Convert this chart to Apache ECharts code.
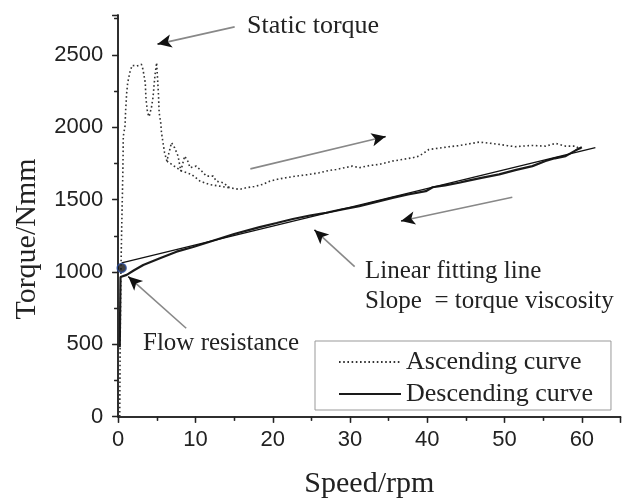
<!DOCTYPE html>
<html>
<head>
<meta charset="utf-8">
<script src="https://cdn.jsdelivr.net/npm/echarts@6/dist/echarts.min.js"></script>
<style>html,body{margin:0;padding:0;background:#fff}#c{width:624px;height:501px}</style>
</head>
<body>
<div id="c"></div>
<script>
// Ascending curve (speed rpm, torque Nmm) – main trace
const ascSpeed = [0.2,0.25,0.35,0.45,0.55,0.62,0.66,0.88,0.97,1.1,1.23,1.5,1.8,2.4,3.0,3.2,3.5,3.6,3.8,4.0,4.3,4.5,4.75,4.97,5.2,5.3,5.5,5.6,5.8,6.0,6.3,6.6,6.9,7.3,7.75,8.1,8.6,9.0,9.3,10.1,10.8,11.4,12.3,12.7,13.6,14.4,15.7,16.6,17.6,18.7,19.6,20.6,21.7,23.0,24.5,26.0,27.2,28.2,29.3,30.3,31.2,32.5,33.8,35.5,36.8,38.1,38.9,39.6,40.2,41.5,42.8,44.0,45.0,46.7,48.0,49.3,50.4,51.4,52.5,53.6,55.3,56.6,57.9,59.2,59.8];
const ascTorque = [0,500,1000,1300,1550,1750,1938,2008,2123,2238,2308,2377,2427,2423,2434,2400,2308,2192,2100,2073,2135,2204,2354,2446,2238,2100,2031,1962,1893,1824,1766,1830,1893,1858,1800,1697,1800,1766,1720,1731,1697,1662,1662,1627,1616,1582,1570,1582,1590,1605,1627,1640,1651,1662,1672,1685,1700,1708,1720,1731,1720,1735,1743,1766,1777,1789,1800,1823,1846,1855,1865,1872,1881,1897,1890,1881,1872,1865,1870,1874,1869,1888,1869,1869,1846];
// Ascending curve – second (lower) trace of the same run
const ascSpeed2 = [6.3,7.0,8.2,9.5,10.6,11.8,13.1,14.4];
const ascTorque2 = [1766,1740,1697,1674,1627,1604,1593,1582];
// Descending curve
const descSpeed = [60.0,59.2,57.9,56.5,55.3,53.6,51.5,49.3,47.0,45.0,44.1,42.3,40.7,39.8,37.5,35.5,33.3,31.2,29.0,26.9,24.8,22.6,20.5,18.3,15.0,11.85,9.7,7.55,5.4,3.24,2.0,1.1,0.3,0.2];
const descTorque = [1862,1840,1800,1785,1766,1731,1705,1674,1650,1627,1616,1598,1585,1558,1535,1512,1482,1454,1432,1409,1390,1366,1338,1310,1262,1209,1172,1140,1095,1048,1010,980,965,480];
// Linear fitting line end points
const fitSpeed = [0.45, 61.75];
const fitTorque = [1062, 1859];
// Flow resistance point
const flowPoint = [0.45, 1028];
// Annotation arrows [fromSpeed, fromTorque, toSpeed, toTorque]
const arrows = [
  [15.07, 2693, 5.1, 2574],
  [17.1, 1712, 34.6, 1935],
  [51.0, 1516, 36.6, 1352],
  [30.6, 1037, 25.4, 1290],
  [8.8, 611, 1.3, 968]
];
const xTicks = [0,10,20,30,40,50,60];
const yTicks = [0,500,1000,1500,2000,2500];

const zip = (a,b) => a.map((v,i)=>[v,b[i]]);
const greyLines = arrows.map(a => [{coord:[a[0],a[1]]},{coord:[a[2],a[3]]}]);
const heads = arrows.map(a => {
  const t = 0.97;
  return [{coord:[a[0]+(a[2]-a[0])*t, a[1]+(a[3]-a[1])*t]},{coord:[a[2],a[3]]}];
});

const serif = 'Liberation Serif, Times New Roman, serif';
const sans = 'Liberation Sans, Arial, sans-serif';
const chart = echarts.init(document.getElementById('c'), null, {renderer:'canvas'});
const axisBase = {
  min: 0, axisLine:{show:true,lineStyle:{color:'#222',width:1.5}},
  splitLine:{show:false}
};
chart.setOption({
  animation:false,
  backgroundColor:'#fff',
  grid:{left:118.2, right:3.5, top:15, bottom:84.3, containLabel:false, outerBoundsMode:'none'},
  xAxis:[
    Object.assign({}, axisBase, {type:'value', max:65, interval:10, position:'bottom',
      axisTick:{show:true,inside:false,length:6,lineStyle:{color:'#222',width:1.3}},
      minorTick:{show:true,splitNumber:2,length:4,lineStyle:{color:'#222',width:1.3}},
      axisLabel:{fontFamily:sans,fontSize:22,color:'#222',margin:12,
        formatter:v=> xTicks.includes(v)? String(v):''},
      name:'Speed/rpm', nameLocation:'middle', nameGap:52,
      nameTextStyle:{fontFamily:serif,fontSize:30,color:'#222'}}),
    Object.assign({}, axisBase, {type:'value', max:65, interval:10, position:'top',
      axisTick:{show:true,inside:true,length:6,lineStyle:{color:'#222',width:1.3}},
      minorTick:{show:true,splitNumber:2,length:4,lineStyle:{color:'#222',width:1.3}},
      axisLabel:{show:false}})
  ],
  yAxis:[
    Object.assign({}, axisBase, {type:'value', max:2775, interval:500, position:'left',
      axisTick:{show:true,inside:false,length:6,lineStyle:{color:'#222',width:1.3}},
      minorTick:{show:true,splitNumber:2,length:4,lineStyle:{color:'#222',width:1.3}},
      axisLabel:{fontFamily:sans,fontSize:22,color:'#222',margin:15,
        formatter:v=> yTicks.includes(v)? String(v):''}}),
    Object.assign({}, axisBase, {type:'value', max:2775, interval:500, position:'right',
      axisTick:{show:true,inside:true,length:6,lineStyle:{color:'#222',width:1.3}},
      minorTick:{show:true,splitNumber:2,length:4,lineStyle:{color:'#222',width:1.3}},
      axisLabel:{show:false}})
  ],
  legend:{
    orient:'vertical', left:315, top:341,
    data:['Ascending curve','Descending curve'],
    itemWidth:62, itemHeight:14, itemGap:4,
    padding:[7,18,2,23],
    borderColor:'#999', borderWidth:1,
    itemStyle:{color:'rgba(0,0,0,0)', borderWidth:0, opacity:0},
    textStyle:{fontFamily:serif,fontSize:26,color:'#222',lineHeight:28}
  },
  series:[
    {name:'Ascending curve', type:'line', data:zip(ascSpeed,ascTorque), symbol:'none',
      lineStyle:{color:'#333',width:1.6,type:[1.6,2.6]}, itemStyle:{color:'#333'}, z:3},
    {name:'Ascending curve', type:'line', data:zip(ascSpeed2,ascTorque2), symbol:'none',
      lineStyle:{color:'#333',width:1.6,type:[1.6,2.6]}, itemStyle:{color:'#333'}, z:3},
    {name:'Descending curve', type:'line', data:zip(descSpeed,descTorque), symbol:'none',
      lineStyle:{color:'#1a1a1a',width:2.2,type:'solid'}, itemStyle:{color:'#1a1a1a'}, z:4},
    {name:'fit', type:'line', data:zip(fitSpeed,fitTorque), symbol:'none',
      lineStyle:{color:'#111',width:1.3}, z:4,
      markLine:{silent:true, symbol:['none','none'], label:{show:false},
        lineStyle:{color:'#888',width:1.6,type:'solid'}, data:greyLines, animation:false}},
    {name:'heads', type:'line', data:[], symbol:'none',
      markLine:{silent:true, symbol:['none','arrow'], symbolSize:[10,14], label:{show:false},
        lineStyle:{color:'#111',width:1.2,type:'solid'}, data:heads, animation:false}},
    {name:'flow', type:'scatter', data:[flowPoint], symbolSize:9,
      itemStyle:{color:'#111',borderColor:'#2d4f9e',borderWidth:1.5}, z:6}
  ],
  graphic:[
    {type:'text', x:27, y:239, rotation:Math.PI/2,
      style:{text:'Torque/Nmm', font:'30px '+serif, fill:'#222', align:'center', verticalAlign:'middle'}},
    {type:'text', x:247, y:26.5,
      style:{text:'Static torque', font:'26px '+serif, fill:'#222', align:'left', verticalAlign:'middle'}},
    {type:'text', x:365, y:271.5,
      style:{text:'Linear fitting line', font:'25px '+serif, fill:'#222', align:'left', verticalAlign:'middle'}},
    {type:'text', x:365, y:301.5,
      style:{text:'Slope  = torque viscosity', font:'25px '+serif, fill:'#222', align:'left', verticalAlign:'middle'}},
    {type:'text', x:143, y:343.5,
      style:{text:'Flow resistance', font:'25px '+serif, fill:'#222', align:'left', verticalAlign:'middle'}}
  ]
});
</script>
</body>
</html>
